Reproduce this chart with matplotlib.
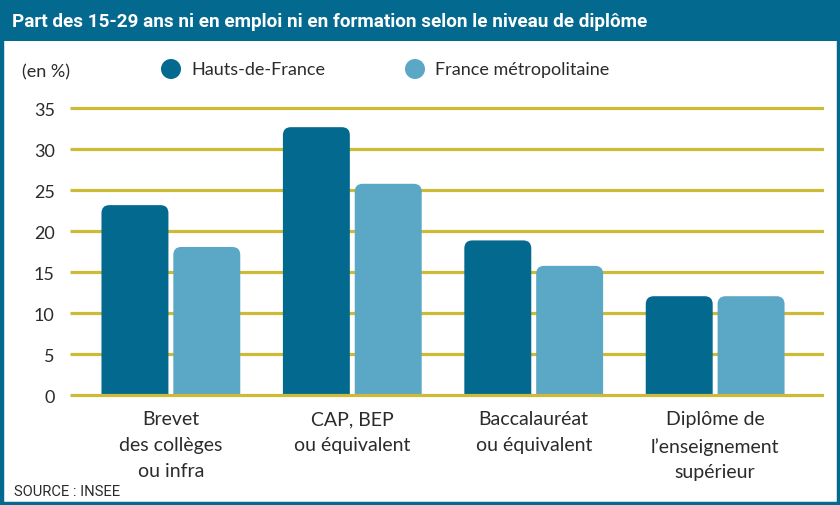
import matplotlib
matplotlib.use("Agg")
import matplotlib.pyplot as plt
from matplotlib.patches import Rectangle, Circle, PathPatch
from matplotlib.path import Path
from matplotlib import font_manager as fm

categories = ["Brevet\ndes collèges\nou infra", "CAP, BEP\nou équivalent",
              "Baccalauréat\nou équivalent", "Diplôme de\nl\u2019enseignement\nsupérieur"]
series_names = ["Hauts-de-France", "France métropolitaine"]
hdf = [23.2, 32.7, 18.9, 12.1]
fm_vals = [18.1, 25.8, 15.8, 12.1]
yticks = [0, 5, 10, 15, 20, 25, 30, 35]

DARK = "#03698F"
LIGHT = "#5AA7C6"
GRID = "#CDBB37"
TXT = "#2b2b2b"

names = {f.name for f in fm.fontManager.ttflist}
title_font = "Liberation Sans Narrow" if "Liberation Sans Narrow" in names else "Roboto"
body_font = "Lato" if "Lato" in names else "DejaVu Sans"
plt.rcParams['font.family'] = [body_font, 'DejaVu Sans']

W, H = 840, 506
fig = plt.figure(figsize=(W / 100, H / 100), dpi=100)

# frame and title bar
fig.patches.append(Rectangle((0, 1 - 42 / H), 1, 42 / H, transform=fig.transFigure,
                             facecolor=DARK, edgecolor="none", zorder=0))
fig.patches.append(Rectangle((1.5 / W, 1.5 / H), 1 - 3 / W, 1 - 3 / H, transform=fig.transFigure,
                             facecolor="none", edgecolor=DARK, linewidth=3.2, zorder=5))
fig.text(12 / W, 1 - 22 / H, "Part des 15-29 ans ni en emploi ni en formation selon le niveau de diplôme",
         color="white", fontsize=13.6, fontweight="bold", family=[title_font, 'DejaVu Sans'],
         ha="left", va="center")

ylo, yhi = -0.3, 35.3
ax_left, ax_right = 70, 824
px_bottom = 396.5 + 0.3 * 8.2
px_top = 109.3 - 0.3 * 8.2
ax = fig.add_axes([ax_left / W, (H - px_bottom) / H, (ax_right - ax_left) / W, (px_bottom - px_top) / H])
ax.set_ylim(ylo, yhi)
ax.set_xlim(-0.556, 3.6)
for s in ax.spines.values():
    s.set_visible(False)
ax.set_facecolor("none")

for t in yticks:
    ax.axhline(t, color=GRID, linewidth=2.3, zorder=1 if t else 4, solid_capstyle="butt")

x = list(range(len(categories)))
bw = 0.369
off = 0.198
b1 = ax.bar([i - off for i in x], hdf, width=bw, color=DARK, zorder=2)
b2 = ax.bar([i + off for i in x], fm_vals, width=bw, color=LIGHT, zorder=2)

rx = 8 / 181.7
ry = 8 / 8.2
for bars in (b1, b2):
    for r in bars:
        x0, y0, w, h = r.get_x(), r.get_y(), r.get_width(), r.get_height()
        x1, y1 = x0 + w, y0 + h
        col = r.get_facecolor()
        r.set_visible(False)
        verts = [(x0, y0), (x0, y1 - ry), (x0, y1), (x0 + rx, y1),
                 (x1 - rx, y1), (x1, y1), (x1, y1 - ry), (x1, y0), (x0, y0)]
        codes = [Path.MOVETO, Path.LINETO, Path.CURVE3, Path.CURVE3,
                 Path.LINETO, Path.CURVE3, Path.CURVE3, Path.LINETO, Path.CLOSEPOLY]
        ax.add_patch(PathPatch(Path(verts, codes), facecolor=col, edgecolor="none", zorder=2))

ax.set_yticks(yticks)
ax.set_yticklabels([str(t) for t in yticks], fontsize=13, color=TXT)
ax.tick_params(axis="y", length=0, pad=11)
ax.set_xticks(x)
ax.set_xticklabels(categories, fontsize=14, color=TXT, linespacing=1.62)
ax.tick_params(axis="x", length=0, pad=9)

# legend & unit
fig.text(22 / W, 1 - 72 / H, "(en %)", fontsize=13, color=TXT, ha="left", va="center")
for cx, lab, col in ((171, series_names[0], DARK), (415, series_names[1], LIGHT)):
    fig.patches.append(Circle((cx, H - 70), 10, transform=None, facecolor=col, edgecolor="none"))
    fig.text((cx + 20) / W, 1 - 70 / H, lab, fontsize=13, color=TXT, ha="left", va="center")

fig.text(14 / W, 1 - 492 / H, "SOURCE : INSEE", fontsize=10.6, color=TXT,
         family=[title_font, 'DejaVu Sans'], ha="left", va="center")

fig.savefig("out.png", dpi=100)
